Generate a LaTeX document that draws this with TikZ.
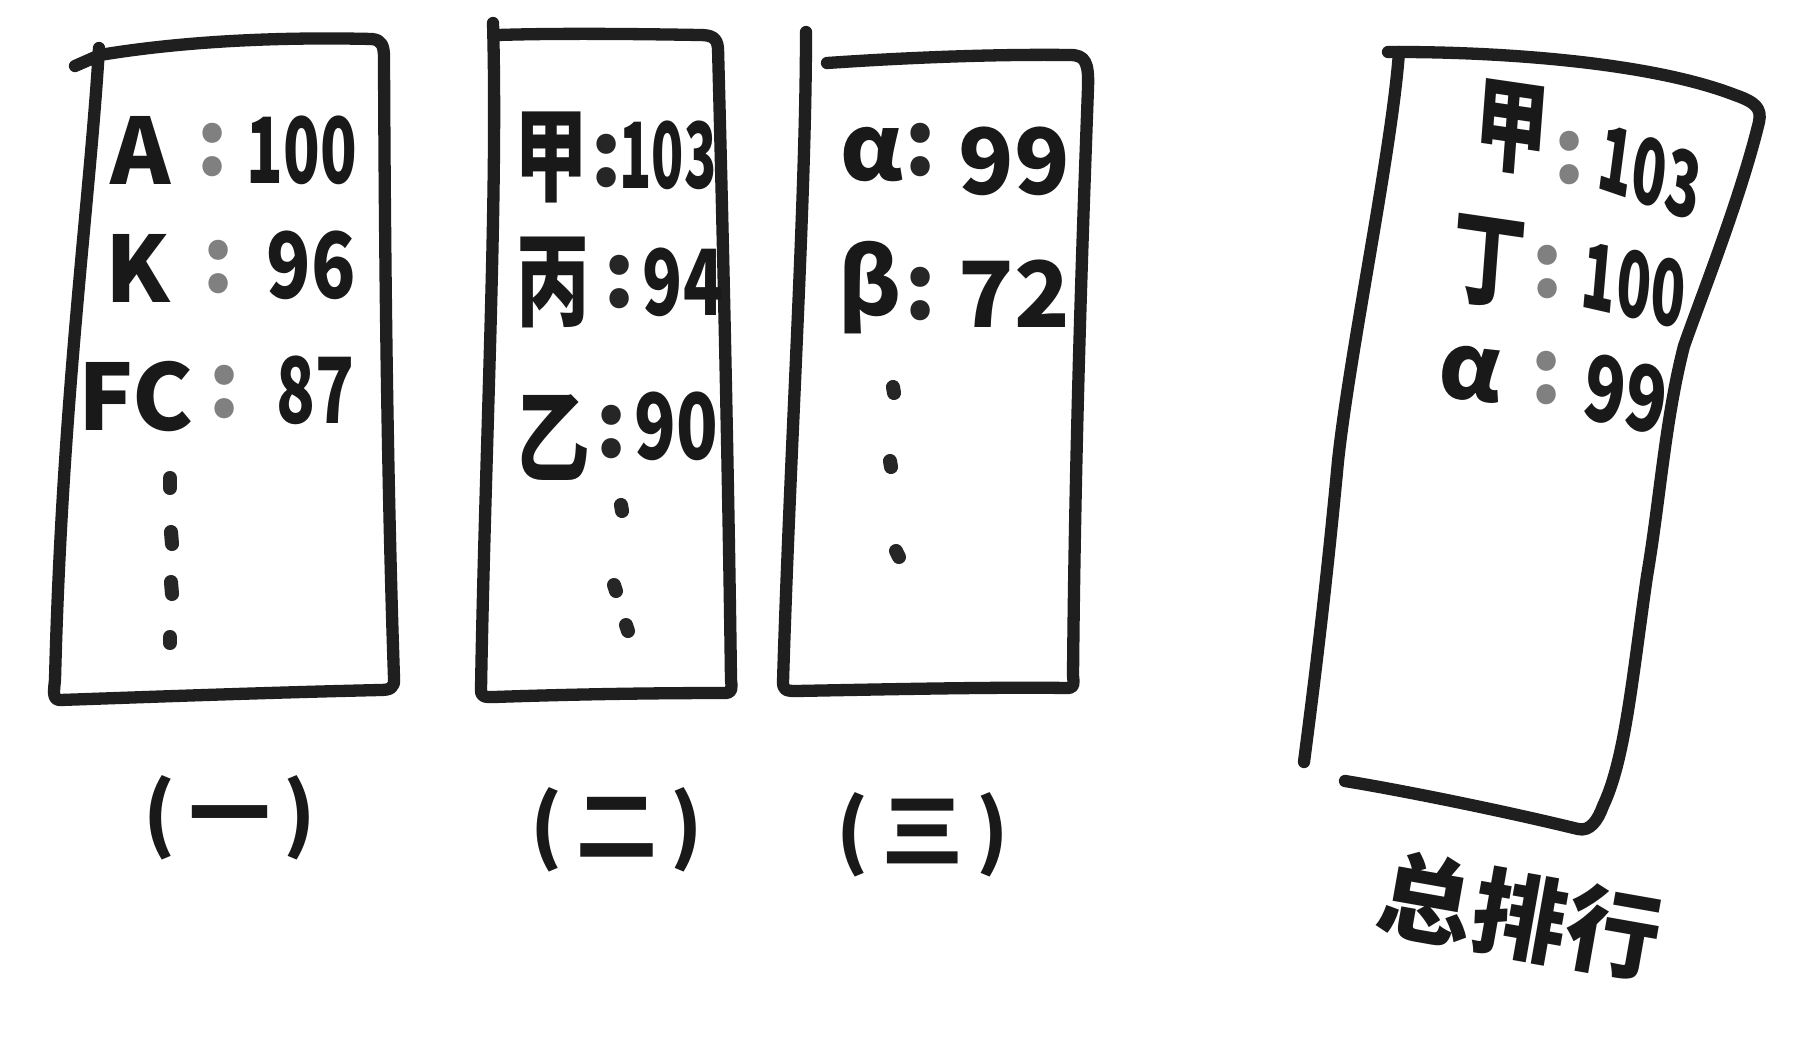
\documentclass[tikz,border=0pt]{standalone}
\usepackage{fontspec}
\setmainfont{Noto Sans CJK SC}
\begin{document}
\begin{tikzpicture}[x=0.02cm,y=-0.02cm]
\tikzset{
 hand/.style={line width=7pt, line cap=round, line join=round, draw=black!88},
 txt/.style={font=\fontsize{52}{60}\selectfont\bfseries, inner sep=0pt, text=black!90},
 num/.style={txt, xscale=0.8},
 numn/.style={txt, xscale=0.66},
 han/.style={font=\fontsize{58}{66}\selectfont\bfseries, inner sep=0pt, text=black!90, xscale=0.72},
 colon/.style={font=\fontsize{52}{60}\selectfont\bfseries, inner sep=0pt, text=black!50},
 colonk/.style={font=\fontsize{52}{60}\selectfont\bfseries, inner sep=0pt, text=black!85},
 lbl/.style={font=\fontsize{46}{54}\selectfont\bfseries, inner sep=0pt, text=black!90},
 dotm/.style={line width=8pt, line cap=round, draw=black!85},
}
\useasboundingbox (0,0) rectangle (1806,1052);
\fill[white] (0,0) rectangle (1806,1052);

% Box 1
\draw[hand] (75,66) -- (100,55) .. controls (190,40) and (290,37) .. (372,39)
  .. controls (382,40) and (384,46) .. (384,58)
  .. controls (385,300) and (388,500) .. (394,678)
  .. controls (395,688) and (390,690) .. (380,690)
  .. controls (250,693) and (120,698) .. (60,700)
  .. controls (52,700) and (54,690) .. (55,680)
  .. controls (62,400) and (90,200) .. (99,48);
% Box 2
\draw[hand] (493,23) .. controls (498,200) and (485,450) .. (481,690)
  .. controls (481,698) and (486,697) .. (494,697)
  .. controls (580,694) and (660,693) .. (726,693)
  .. controls (732,693) and (732,688) .. (731,680)
  .. controls (728,450) and (722,200) .. (718,48)
  .. controls (717,38) and (712,35) .. (700,35)
  .. controls (640,34) and (560,33) .. (498,35);
% Box 3
\draw[hand] (806,32) .. controls (806,200) and (790,450) .. (783,682)
  .. controls (783,690) and (786,691) .. (796,691)
  .. controls (900,689) and (1000,687) .. (1068,688)
  .. controls (1074,688) and (1074,684) .. (1073,676)
  .. controls (1075,450) and (1082,250) .. (1088,88)
  .. controls (1089,62) and (1085,55) .. (1070,55)
  .. controls (990,54) and (900,58) .. (827,63);
% Box 4
\draw[hand] (1388,52) -- (1399,52) .. controls (1500,52) and (1650,62) .. (1735,95)
  .. controls (1755,102) and (1762,108) .. (1759,122)
  .. controls (1740,200) and (1700,300) .. (1684,346)
  .. controls (1665,420) and (1660,500) .. (1647,576)
  .. controls (1632,680) and (1625,760) .. (1603,806)
  .. controls (1598,820) and (1590,832) .. (1578,829)
  .. controls (1500,810) and (1400,790) .. (1345,781);
\draw[hand] (1399,52) .. controls (1392,150) and (1350,350) .. (1338,461)
  .. controls (1325,600) and (1312,700) .. (1304,762);

% Box 1 content
\node[txt] (a1) at (141,150) {A};
\node[colon] (a1c) at (213,150) {:};
\node[numn] (a1v) at (302,150) {100};
\node[txt] (k1) at (138,268) {K};
\node[colon] (k1c) at (219,267) {:};
\node[num] (k1v) at (311,265) {96};
\node[txt] (f1) at (136,397) {FC};
\node[colon] (f1c) at (225,392) {:};
\node[txt, xscale=0.7] (f1v) at (315,390) {87};
\draw[dotm] (170,478) -- (170,488);
\draw[dotm] (171,532) -- (172,544);
\draw[dotm] (171,582) -- (172,594);
\draw[dotm] (170,637) -- (170,643);

% Box 2 content
\node[han] (j2) at (551,157) {甲};
\node[colonk] (j2c) at (607,161) {:};
\node[txt, xscale=0.58] (j2v) at (668,155) {103};
\node[han] (b2) at (553,282) {丙};
\node[colonk] (b2c) at (620,282) {:};
\node[txt, xscale=0.72] (b2v) at (683,282) {94};
\node[han] (y2) at (553,438) {乙};
\node[colonk] (y2c) at (612,432) {:};
\node[txt, xscale=0.75] (y2v) at (676,426) {90};
\draw[dotm] (621,505) -- (622,511);
\draw[dotm] (614,585) -- (616,591);
\draw[dotm] (626,625) -- (628,631);

% Box 3 content
\node[txt] (al3) at (872,155) {α};
\node[colonk] (al3c) at (921,150) {:};
\node[txt] (al3v) at (1014,161) {99};
\node[txt] (be3) at (870,288) {β};
\node[colonk] (be3c) at (921,294) {:};
\node[txt] (be3v) at (1014,294) {72};
\draw[dotm] (893,387) -- (894,393);
\draw[dotm] (890,461) -- (891,467);
\draw[dotm] (896,551) -- (899,557);

% Box 4 content
\node[han, rotate=-6] (j4) at (1512,128) {甲};
\node[colon] (j4c) at (1570,158) {:};
\node[txt, xscale=0.62, rotate=-12] (j4v) at (1650,172) {103};
\node[han, rotate=-6] (d4) at (1489,262) {丁};
\node[colon] (d4c) at (1548,272) {:};
\node[txt, xscale=0.62, rotate=-8] (d4v) at (1634,285) {100};
\node[txt, rotate=-6] (al4) at (1470,374) {α};
\node[colon] (al4c) at (1547,378) {:};
\node[txt, xscale=0.75, rotate=-10] (al4v) at (1626,394) {99};

% Labels
\node[lbl] (l1) at (230,818) {(\,一\,)};
\node[lbl] (l2) at (617,830) {(\,二\,)};
\node[lbl] (l3) at (923,835) {(\,三\,)};
\node[lbl, font=\fontsize{54}{60}\selectfont\bfseries, rotate=-10] (l4) at (1520,916) {总排行};
\end{tikzpicture}
\end{document}
